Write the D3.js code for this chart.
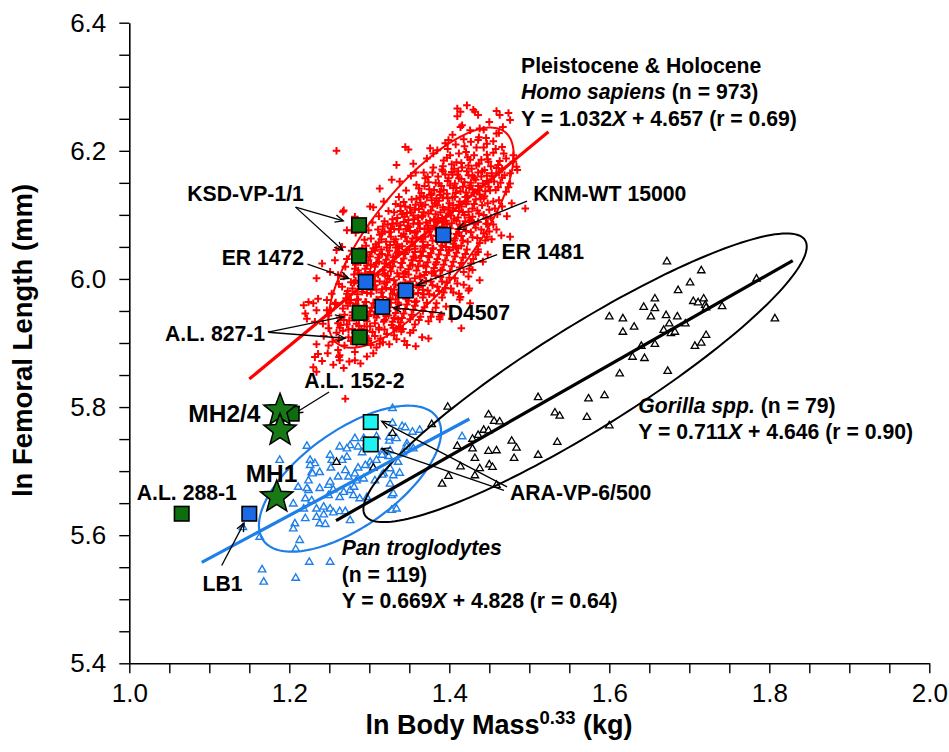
<!DOCTYPE html>
<html>
<head>
<meta charset="utf-8">
<script src="https://cdn.jsdelivr.net/npm/d3@7/dist/d3.min.js"></script>
<style>
  body { margin: 0; background: #fff; }
  svg { display: block; }
</style>
</head>
<body>
<svg id="chart" width="949" height="752"></svg>
<script>
// ---- axis ticks ----
const xTickValues = [1.0, 1.2, 1.4, 1.6, 1.8, 2.0];
const xTickLabels = ["1.0", "1.2", "1.4", "1.6", "1.8", "2.0"];
const yTickValues = [5.4, 5.6, 5.8, 6.0, 6.2, 6.4];
const yTickLabels = ["5.4", "5.6", "5.8", "6.0", "6.2", "6.4"];
const minorStep = 0.05;

// ---- Pleistocene & Holocene Homo sapiens: [ln body mass^0.33, ln femoral length] ----
const homoPoints = [
  [1.410,6.266],[1.422,6.271],[1.414,6.261],[1.432,6.261],[1.436,6.256],[1.459,6.262],[1.463,6.256],[1.474,6.259],
  [1.476,6.248],[1.450,6.245],[1.414,6.237],[1.426,6.232],[1.443,6.233],[1.467,6.237],[1.410,6.254],[1.399,6.217],
  [1.436,6.217],[1.447,6.211],[1.480,6.193],[1.484,6.175],[1.476,6.165],[1.495,6.110],[1.446,6.086],[1.447,6.066],
  [1.436,6.042],[1.425,5.985],[1.413,5.968],[1.426,5.962],[1.374,5.907],[1.345,6.206],[1.376,6.204],[1.380,6.196],
  [1.355,6.180],[1.259,6.200],[1.349,6.202],[1.430,6.264],[1.416,6.240],[1.438,6.235],[1.459,6.227],[1.480,6.183],
  [1.485,6.170],[1.476,6.066],[1.429,6.014],[1.438,5.998],[1.424,5.982],[1.414,5.972],[1.415,5.923],[1.388,5.941],
  [1.355,5.920],[1.334,6.178],[1.328,6.155],[1.313,6.141],[1.301,6.113],[1.268,6.107],[1.282,6.097],[1.278,6.076],
  [1.259,6.045],[1.266,6.050],[1.241,6.024],[1.270,6.019],[1.251,6.011],[1.261,6.006],[1.266,5.988],[1.224,5.964],
  [1.230,5.962],[1.236,5.969],[1.247,5.967],[1.218,5.959],[1.220,5.946],[1.234,5.951],[1.247,5.951],[1.257,5.961],
  [1.232,5.933],[1.242,5.930],[1.234,5.898],[1.249,5.896],[1.236,5.883],[1.232,5.878],[1.263,5.881],[1.261,5.889],
  [1.230,5.862],[1.234,5.855],[1.282,5.873],[1.299,5.907],[1.313,5.899],[1.334,5.922],[1.267,6.105],[1.272,6.076],
  [1.257,6.029],[1.234,6.001],[1.253,5.977],[1.222,5.938],[1.249,5.943],[1.263,5.873],[1.270,5.813],
  [1.372,6.188],[1.385,6.201],[1.392,6.176],[1.401,6.193],[1.408,6.210],[1.415,6.181],[1.421,6.198],[1.428,6.172],
  [1.434,6.205],[1.440,6.186],[1.447,6.194],[1.452,6.176],[1.458,6.203],[1.463,6.184],[1.468,6.196],[1.395,6.212],
  [1.418,6.218],[1.437,6.221],[1.455,6.215],[1.380,6.174],[1.411,6.168],[1.444,6.170],[1.466,6.172],[1.426,6.186],
  [1.403,6.179],
  [1.338,6.152],[1.346,6.138],[1.352,6.161],[1.359,6.147],[1.365,6.134],[1.368,6.166],[1.374,6.151],[1.381,6.139],
  [1.386,6.160],[1.390,6.145],[1.397,6.133],[1.399,6.157],[1.405,6.142],[1.410,6.163],[1.414,6.137],[1.419,6.151],
  [1.424,6.162],[1.429,6.140],[1.433,6.155],[1.438,6.132],[1.442,6.149],[1.447,6.161],[1.451,6.138],[1.456,6.152],
  [1.461,6.143],[1.466,6.158],[1.471,6.136],[1.476,6.149],[1.358,6.166],[1.392,6.168],[1.421,6.135],[1.436,6.166],
  [1.462,6.166],[1.377,6.131],[1.407,6.149],[1.449,6.144],
  [1.305,6.112],[1.312,6.098],[1.318,6.121],[1.324,6.106],[1.329,6.093],[1.333,6.117],[1.337,6.128],[1.341,6.101],
  [1.345,6.113],[1.349,6.092],[1.353,6.124],[1.357,6.108],[1.361,6.096],[1.364,6.119],[1.368,6.104],[1.372,6.127],
  [1.376,6.091],[1.379,6.113],[1.383,6.101],[1.387,6.122],[1.391,6.095],[1.394,6.108],[1.398,6.126],[1.402,6.099],
  [1.405,6.115],[1.409,6.091],[1.413,6.121],[1.417,6.104],[1.421,6.117],[1.425,6.096],[1.429,6.110],[1.433,6.124],
  [1.437,6.102],[1.441,6.115],[1.446,6.094],[1.450,6.108],[1.455,6.121],[1.460,6.101],[1.466,6.113],[1.472,6.098],
  [1.478,6.118],[1.339,6.106],[1.366,6.113],[1.385,6.090],[1.399,6.111],[1.423,6.129],[1.444,6.129],[1.356,6.093],
  [1.389,6.131],[1.412,6.106],
  [1.283,6.072],[1.289,6.084],[1.294,6.061],[1.299,6.076],[1.304,6.088],[1.308,6.054],[1.313,6.069],[1.317,6.082],
  [1.321,6.058],[1.325,6.073],[1.329,6.086],[1.333,6.062],[1.337,6.077],[1.341,6.051],[1.345,6.066],[1.349,6.081],
  [1.353,6.057],[1.357,6.072],[1.361,6.087],[1.365,6.063],[1.369,6.078],[1.373,6.053],[1.377,6.068],[1.381,6.083],
  [1.385,6.059],[1.389,6.074],[1.393,6.088],[1.397,6.064],[1.401,6.079],[1.405,6.055],[1.409,6.070],[1.413,6.085],
  [1.417,6.060],[1.421,6.075],[1.425,6.089],[1.429,6.065],[1.433,6.080],[1.438,6.056],[1.443,6.071],[1.448,6.086],
  [1.453,6.062],[1.459,6.077],[1.465,6.068],[1.296,6.052],[1.319,6.090],[1.343,6.089],[1.367,6.051],[1.391,6.052],
  [1.415,6.052],[1.436,6.089],[1.455,6.085],
  [1.272,6.031],[1.278,6.044],[1.283,6.022],[1.287,6.036],[1.291,6.048],[1.295,6.016],[1.299,6.029],[1.303,6.042],
  [1.307,6.019],[1.311,6.033],[1.315,6.046],[1.319,6.024],[1.323,6.037],[1.327,6.012],[1.331,6.027],[1.335,6.041],
  [1.339,6.018],[1.343,6.032],[1.347,6.045],[1.351,6.021],[1.355,6.035],[1.359,6.013],[1.363,6.028],[1.367,6.043],
  [1.371,6.019],[1.375,6.034],[1.379,6.047],[1.383,6.023],[1.387,6.038],[1.391,6.014],[1.395,6.029],[1.399,6.044],
  [1.403,6.020],[1.407,6.035],[1.411,6.048],[1.415,6.025],[1.420,6.039],[1.425,6.016],[1.430,6.031],[1.436,6.046],
  [1.442,6.027],[1.448,6.038],[1.286,6.013],[1.309,6.050],[1.333,6.049],[1.357,6.047],[1.381,6.012],[1.405,6.049],
  [1.418,6.011],[1.301,6.011],
  [1.262,5.992],[1.268,6.004],[1.273,5.981],[1.277,5.995],[1.281,6.007],[1.285,5.976],[1.289,5.989],[1.293,6.002],
  [1.297,5.978],[1.301,5.992],[1.305,6.005],[1.309,5.983],[1.313,5.996],[1.317,5.972],[1.321,5.986],[1.325,6.000],
  [1.329,5.977],[1.333,5.991],[1.337,6.004],[1.341,5.980],[1.345,5.994],[1.349,5.973],[1.353,5.987],[1.357,6.001],
  [1.361,5.978],[1.365,5.993],[1.369,6.006],[1.373,5.982],[1.377,5.996],[1.381,5.974],[1.385,5.988],[1.389,6.003],
  [1.393,5.979],[1.397,5.994],[1.402,5.985],[1.407,6.001],[1.412,5.977],[1.418,5.991],[1.424,6.004],[1.271,5.970],
  [1.295,6.008],[1.319,6.008],[1.343,6.008],[1.367,5.971],[1.391,5.971],
  [1.252,5.951],[1.258,5.963],[1.263,5.940],[1.267,5.954],[1.271,5.966],[1.275,5.935],[1.279,5.948],[1.283,5.961],
  [1.287,5.937],[1.291,5.951],[1.295,5.964],[1.299,5.942],[1.303,5.955],[1.307,5.931],[1.311,5.945],[1.315,5.959],
  [1.319,5.936],[1.323,5.950],[1.327,5.963],[1.331,5.939],[1.335,5.953],[1.339,5.932],[1.343,5.946],[1.347,5.960],
  [1.351,5.937],[1.355,5.952],[1.359,5.965],[1.364,5.941],[1.369,5.956],[1.374,5.934],[1.379,5.948],[1.384,5.962],
  [1.390,5.944],[1.396,5.957],[1.403,5.938],[1.261,5.931],[1.285,5.968],[1.309,5.968],[1.333,5.968],[1.357,5.929],
  [1.243,5.911],[1.249,5.923],[1.254,5.902],[1.259,5.916],[1.264,5.928],[1.269,5.896],[1.274,5.909],[1.279,5.922],
  [1.284,5.899],[1.289,5.913],[1.294,5.926],[1.299,5.904],[1.304,5.917],[1.309,5.893],[1.314,5.907],[1.319,5.921],
  [1.325,5.898],[1.331,5.912],[1.337,5.925],[1.344,5.903],[1.351,5.916],[1.358,5.895],[1.366,5.909],
  [1.241,5.872],[1.248,5.884],[1.255,5.866],[1.262,5.878],[1.268,5.861],[1.275,5.871],[1.282,5.886],[1.289,5.868],
  [1.297,5.879],[1.305,5.884],
  [1.393,6.185],[1.398,6.203],[1.406,6.172],[1.412,6.196],[1.419,6.207],[1.424,6.177],[1.431,6.193],[1.437,6.180],
  [1.443,6.205],[1.449,6.183],[1.455,6.197],[1.461,6.178],[1.466,6.206],[1.471,6.188],[1.427,6.214],[1.446,6.220],
  [1.404,6.225],[1.462,6.228],
  [1.362,6.141],[1.370,6.157],[1.375,6.140],[1.383,6.150],[1.388,6.136],[1.395,6.163],[1.401,6.146],[1.408,6.134],
  [1.412,6.157],[1.417,6.144],[1.422,6.168],[1.427,6.150],[1.431,6.134],[1.436,6.145],[1.440,6.160],[1.445,6.137],
  [1.453,6.165],[1.458,6.139],[1.464,6.150],[1.469,6.162],[1.474,6.143],[1.379,6.166],[1.403,6.167],[1.425,6.142],
  [1.447,6.153],
  [1.331,6.104],[1.335,6.095],[1.343,6.120],[1.347,6.103],[1.351,6.111],[1.355,6.099],[1.359,6.125],[1.362,6.109],
  [1.366,6.097],[1.370,6.116],[1.374,6.102],[1.378,6.123],[1.381,6.093],[1.385,6.115],[1.389,6.104],[1.392,6.127],
  [1.396,6.097],[1.400,6.118],[1.404,6.106],[1.407,6.128],[1.411,6.096],[1.415,6.113],[1.419,6.100],[1.423,6.121],
  [1.427,6.092],[1.431,6.117],[1.435,6.107],[1.439,6.125],[1.443,6.100],[1.448,6.118],[1.452,6.096],[1.457,6.110],
  [1.462,6.123],[1.368,6.129],[1.396,6.091],[1.420,6.090],
  [1.311,6.077],[1.315,6.062],[1.319,6.074],[1.323,6.085],[1.327,6.066],[1.331,6.078],[1.335,6.054],[1.339,6.084],
  [1.343,6.070],[1.347,6.059],[1.351,6.075],[1.355,6.086],[1.359,6.065],[1.363,6.079],[1.367,6.058],[1.371,6.088],
  [1.375,6.074],[1.379,6.060],[1.383,6.077],[1.387,6.065],[1.391,6.082],[1.395,6.057],[1.399,6.071],[1.403,6.087],
  [1.407,6.063],[1.411,6.078],[1.415,6.067],[1.419,6.084],[1.423,6.058],[1.427,6.073],[1.431,6.086],[1.435,6.064],
  [1.440,6.077],[1.445,6.060],[1.450,6.074],[1.357,6.051],[1.384,6.089],[1.408,6.051],[1.326,6.053],
  [1.289,6.026],[1.293,6.040],[1.297,6.021],[1.301,6.035],[1.305,6.048],[1.309,6.025],[1.313,6.038],[1.317,6.014],
  [1.321,6.030],[1.325,6.044],[1.329,6.020],[1.333,6.035],[1.337,6.048],[1.341,6.025],[1.345,6.039],[1.349,6.015],
  [1.353,6.029],[1.357,6.042],[1.361,6.020],[1.365,6.036],[1.369,6.049],[1.373,6.026],[1.377,6.040],[1.381,6.017],
  [1.385,6.031],[1.389,6.045],[1.393,6.022],[1.397,6.037],[1.401,6.012],[1.405,6.027],[1.409,6.041],[1.413,6.018],
  [1.417,6.033],[1.422,6.046],[1.427,6.024],[1.433,6.038],[1.345,6.011],[1.371,6.011],[1.396,6.050],
  [1.279,5.985],[1.283,5.997],[1.287,6.009],[1.291,5.980],[1.295,5.995],[1.299,6.004],[1.303,5.983],[1.307,5.997],
  [1.311,6.007],[1.315,5.979],[1.319,5.993],[1.323,6.005],[1.327,5.984],[1.331,5.998],[1.335,5.975],[1.339,5.990],
  [1.343,6.003],[1.347,5.982],[1.351,5.996],[1.355,5.976],[1.359,5.990],[1.363,6.004],[1.367,5.983],[1.371,5.997],
  [1.375,5.976],[1.379,5.990],[1.383,6.005],[1.387,5.981],[1.391,5.996],[1.395,5.986],[1.400,6.002],[1.405,5.979],
  [1.410,5.993],
  [1.269,5.944],[1.273,5.958],[1.277,5.967],[1.281,5.939],[1.285,5.953],[1.289,5.944],[1.293,5.958],[1.297,5.934],
  [1.301,5.949],[1.305,5.962],[1.309,5.940],[1.313,5.953],[1.317,5.966],[1.321,5.942],[1.325,5.956],[1.329,5.933],
  [1.333,5.947],[1.337,5.960],[1.341,5.939],[1.345,5.953],[1.349,5.966],[1.353,5.944],[1.357,5.958],[1.362,5.936],
  [1.367,5.950],[1.372,5.963],[1.377,5.941],[1.383,5.955],[1.388,5.937],
  [1.262,5.905],[1.267,5.919],[1.272,5.929],[1.277,5.903],[1.282,5.916],[1.287,5.927],[1.292,5.906],[1.297,5.919],
  [1.302,5.897],[1.307,5.911],[1.312,5.924],[1.317,5.901],[1.322,5.914],[1.328,5.928],[1.334,5.906],[1.340,5.918],
  [1.347,5.897],
  [1.391,6.171],[1.397,6.189],[1.404,6.163],[1.409,6.182],[1.416,6.174],[1.423,6.190],[1.429,6.161],[1.434,6.177],
  [1.441,6.168],[1.448,6.187],[1.454,6.160],[1.459,6.173],
  [1.363,6.127],[1.369,6.145],[1.373,6.159],[1.378,6.133],[1.384,6.126],[1.387,6.149],[1.393,6.139],[1.398,6.153],
  [1.404,6.127],[1.409,6.142],[1.415,6.156],[1.420,6.128],[1.426,6.146],[1.431,6.158],[1.437,6.139],[1.443,6.126],
  [1.449,6.151],
  [1.334,6.087],[1.339,6.114],[1.344,6.097],[1.348,6.083],[1.352,6.104],[1.358,6.116],[1.363,6.086],[1.367,6.099],
  [1.373,6.083],[1.377,6.107],[1.382,6.118],[1.386,6.094],[1.392,6.112],[1.397,6.085],[1.401,6.104],[1.406,6.094],
  [1.412,6.116],[1.418,6.083],[1.424,6.105],[1.429,6.097],
  [1.302,6.063],[1.307,6.044],[1.312,6.057],[1.316,6.071],[1.322,6.049],[1.327,6.079],[1.331,6.058],[1.336,6.043],
  [1.340,6.067],[1.346,6.078],[1.350,6.046],[1.354,6.063],[1.360,6.074],[1.364,6.043],[1.370,6.066],[1.374,6.079],
  [1.380,6.048],[1.384,6.067],[1.390,6.059],[1.395,6.076],[1.400,6.045],[1.406,6.060],[1.412,6.073],
  [1.282,6.016],[1.288,6.031],[1.292,6.004],[1.297,6.038],[1.302,6.022],[1.306,6.008],[1.312,6.027],[1.316,6.039],
  [1.320,6.005],[1.326,6.018],[1.330,6.034],[1.335,6.009],[1.340,6.025],[1.344,6.040],[1.349,6.007],[1.354,6.022],
  [1.358,6.033],[1.364,6.004],[1.368,6.021],[1.374,6.036],[1.378,6.009],[1.384,6.026],[1.389,6.013],
  [1.272,5.977],[1.276,5.963],[1.281,5.994],[1.286,5.968],[1.292,5.985],[1.296,5.964],[1.302,5.977],[1.307,5.990],
  [1.311,5.967],[1.316,5.984],[1.322,5.995],[1.326,5.970],[1.331,5.983],[1.336,5.963],[1.342,5.990],[1.346,5.969],
  [1.352,5.982],[1.357,5.964],[1.362,5.987],[1.368,5.976],
  [1.263,5.924],[1.268,5.936],[1.274,5.921],[1.279,5.943],[1.284,5.930],[1.290,5.922],[1.295,5.939],[1.301,5.926],
  [1.306,5.944],[1.312,5.921],[1.318,5.933],[1.324,5.943],[1.330,5.924],[1.336,5.937],[1.342,5.922]
];

// ---- Pan troglodytes ----
const panPoints = [
  [1.329,5.798],[1.329,5.775],[1.341,5.770],[1.345,5.768],[1.354,5.761],[1.363,5.764],[1.282,5.751],[1.293,5.751],
  [1.276,5.740],[1.263,5.738],[1.272,5.735],[1.286,5.738],[1.297,5.745],[1.309,5.754],[1.325,5.747],[1.334,5.751],
  [1.325,5.753],[1.347,5.743],[1.347,5.738],[1.326,5.732],[1.316,5.730],[1.324,5.723],[1.316,5.725],[1.309,5.717],
  [1.301,5.714],[1.295,5.709],[1.303,5.709],[1.272,5.722],[1.266,5.717],[1.253,5.717],[1.251,5.725],[1.232,5.712],
  [1.226,5.717],[1.222,5.739],[1.188,5.717],[1.226,5.709],[1.238,5.698],[1.228,5.698],[1.229,5.696],[1.252,5.705],
  [1.261,5.691],[1.274,5.691],[1.282,5.696],[1.284,5.685],[1.293,5.688],[1.286,5.705],[1.270,5.701],[1.318,5.696],
  [1.330,5.693],[1.338,5.697],[1.307,5.685],[1.316,5.694],[1.326,5.704],[1.326,5.680],[1.224,5.685],[1.211,5.675],
  [1.224,5.670],[1.238,5.673],[1.249,5.678],[1.251,5.683],[1.255,5.671],[1.249,5.662],[1.263,5.659],[1.276,5.670],
  [1.268,5.667],[1.280,5.662],[1.288,5.657],[1.297,5.659],[1.281,5.675],[1.328,5.662],[1.330,5.665],[1.220,5.657],
  [1.228,5.654],[1.205,5.649],[1.218,5.641],[1.234,5.641],[1.243,5.644],[1.251,5.641],[1.263,5.637],[1.270,5.637],
  [1.255,5.635],[1.243,5.632],[1.276,5.623],[1.234,5.628],[1.238,5.618],[1.245,5.617],[1.207,5.618],[1.205,5.610],
  [1.220,5.626],[1.213,5.592],[1.208,5.578],[1.328,5.639],[1.334,5.641],[1.225,5.558],[1.251,5.558],[1.166,5.546],
  [1.168,5.527],[1.208,5.533],[1.163,5.597],[1.142,5.612],[1.222,5.673],[1.416,5.754],[1.291,5.729],[1.301,5.739],
  [1.336,5.714],[1.342,5.729],[1.355,5.735]
];

// ---- Gorilla spp. ----
const gorillaPoints = [
  [1.672,6.027],[1.715,6.013],[1.701,5.994],[1.686,5.982],[1.657,5.969],[1.643,5.956],[1.657,5.954],[1.705,5.965],
  [1.711,5.963],[1.718,5.969],[1.720,5.959],[1.721,5.955],[1.741,5.957],[1.807,5.938],[1.600,5.941],[1.617,5.938],
  [1.652,5.941],[1.671,5.943],[1.685,5.941],[1.631,5.925],[1.617,5.917],[1.668,5.920],[1.675,5.930],[1.677,5.915],
  [1.682,5.917],[1.695,5.930],[1.657,5.898],[1.707,5.895],[1.715,5.900],[1.721,5.912],[1.629,5.878],[1.644,5.876],
  [1.640,5.895],[1.613,5.852],[1.673,5.856],[1.511,5.815],[1.574,5.813],[1.594,5.818],[1.532,5.791],[1.538,5.786],
  [1.572,5.784],[1.600,5.771],[1.398,5.800],[1.449,5.788],[1.456,5.778],[1.463,5.777],[1.378,5.773],[1.443,5.764],
  [1.449,5.763],[1.436,5.756],[1.429,5.750],[1.410,5.739],[1.429,5.735],[1.478,5.747],[1.484,5.736],[1.535,5.745],
  [1.449,5.731],[1.459,5.732],[1.432,5.720],[1.481,5.720],[1.511,5.725],[1.450,5.710],[1.454,5.706],[1.414,5.707],
  [1.438,5.704],[1.399,5.692],[1.432,5.693],[1.391,5.680],[1.459,5.678],[1.329,5.759],[1.259,5.714],[1.784,6.000],
  [1.305,5.705]
];

// ---- least-squares lines: slope, intercept and plotted x extent ----
const fitSlopes     = { homo: 1.032, pan: 0.669, gorilla: 0.711 };
const fitIntercepts = { homo: 4.657, pan: 4.828, gorilla: 4.728 };
const fitExtents    = { homo: [1.150, 1.524], pan: [1.0905, 1.4251], gorilla: [1.2584, 1.8293] };

// ---- 95% ellipses: centre, end of major semi-axis, end of minor semi-axis ----
const ellipseCentres = { homo: [1.3647, 6.0644], pan: [1.2759, 5.6882], gorilla: [1.5697, 5.8457] };
const ellipseMajor   = { homo: [1.4697, 6.2293], pan: [1.3843, 5.7844], gorilla: [1.8447, 6.0605] };
const ellipseMinor   = { homo: [1.4135, 6.0158], pan: [1.3107, 5.6271], gorilla: [1.6037, 5.7777] };

// ---- fossil specimens ----
const specimens = [
  { name: "KSD-VP-1/1",     kind: "green", x: 1.2872, y: 6.0839 },
  { name: "KSD-VP-1/1",     kind: "green", x: 1.2872, y: 6.0360 },
  { name: "ER 1472",        kind: "blue",  x: 1.2955, y: 5.9953 },
  { name: "ER 1481",        kind: "blue",  x: 1.3455, y: 5.9819 },
  { name: "D4507",          kind: "blue",  x: 1.3163, y: 5.9563 },
  { name: "KNM-WT 15000",   kind: "blue",  x: 1.3925, y: 6.0688 },
  { name: "A.L. 827-1",     kind: "green", x: 1.2880, y: 5.9469 },
  { name: "A.L. 827-1",     kind: "green", x: 1.2880, y: 5.9089 },
  { name: "A.L. 152-2",     kind: "green", x: 1.2030, y: 5.7897 },
  { name: "A.L. 288-1",     kind: "green", x: 1.0655, y: 5.6335 },
  { name: "LB1",            kind: "blue",  x: 1.1500, y: 5.6335 },
  { name: "ARA-VP-6/500",   kind: "cyan",  x: 1.3018, y: 5.7766 },
  { name: "ARA-VP-6/500",   kind: "cyan",  x: 1.3018, y: 5.7417 },
  { name: "MH2/4",          kind: "star",  x: 1.1884, y: 5.7949 },
  { name: "MH2/4",          kind: "star",  x: 1.1884, y: 5.7636 },
  { name: "MH1",            kind: "star",  x: 1.1843, y: 5.6594 }
];

// specimen name labels: [text, x, y] at the text's left baseline
const specimenLabels = [
  ["KSD-VP-1/1",   1.0725, 6.1214],
  ["ER 1472",      1.1155, 6.0214],
  ["A.L. 827-1",   1.0447, 5.9032],
  ["KNM-WT 15000", 1.5050, 6.1222],
  ["ER 1481",      1.4653, 6.0308],
  ["D4507",        1.3980, 5.9355],
  ["A.L. 152-2",   1.2188, 5.8293],
  ["A.L. 288-1",   1.0093, 5.6543],
  ["LB1",          1.0915, 5.5136],
  ["ARA-VP-6/500", 1.4759, 5.6543]
];
const largeLabels = [
  ["MH2/4", 1.0738, 5.7766],
  ["MH1",   1.1455, 5.6829]
];

// leader arrows: [fromX, fromY, toX, toY]
const leaders = [
  [1.2078, 6.1121, 1.2675, 6.0907],
  [1.2078, 6.1121, 1.2668, 6.0449],
  [1.2228, 6.0230, 1.2744, 6.0007],
  [1.1734, 5.9168, 1.2678, 5.9410],
  [1.1734, 5.9168, 1.2697, 5.9074],
  [1.3947, 5.9464, 1.3300, 5.9553],
  [1.4597, 6.0378, 1.3593, 5.9902],
  [1.4972, 6.1214, 1.4100, 6.0777],
  [1.2497, 5.8235, 1.2065, 5.7900],
  [1.1155, 5.5527, 1.1434, 5.6188],
  [1.4722, 5.6753, 1.3155, 5.7777],
  [1.4684, 5.6699, 1.3155, 5.7350]
];

// group legends: anchor [x, y of first baseline]
const homoLegendAt    = [1.4897, 6.3222];
const gorillaLegendAt = [1.6363, 5.7907];
const panLegendAt     = [1.2655, 5.5683];

// ---------------------------------------------------------------
const colours = {
  homo: "#ff0000", pan: "#1e7fe8", gorilla: "#000000",
  green: "#0c6e0c", blue: "#1a6ae6", cyan: "#1ff2f2", star: "#177a17"
};
const FONT = "'Liberation Sans', Arial, Helvetica, sans-serif";
const LABEL_SIZE = 21.2;
const lineGap = 26.5;

const svg = d3.select("#chart");
const x = d3.scaleLinear().domain([1.0, 2.0]).range([129.3, 929.3]);
const y = d3.scaleLinear().domain([5.4, 6.4]).range([663.3, 22.7]);

// axes with unlabelled minor ticks every 0.05
const xAll = d3.range(0, 21).map(i => +(1.0 + i * minorStep).toFixed(2));
const yAll = d3.range(0, 21).map(i => +(5.4 + i * minorStep).toFixed(2));
const labelFor = (vals, labels) => d => {
  const i = vals.findIndex(v => Math.abs(v - d) < 1e-6);
  return i >= 0 ? labels[i] : "";
};

const gx = svg.append("g").attr("transform", `translate(0,${y(5.4)})`)
  .call(d3.axisBottom(x).tickValues(xAll).tickSize(10).tickSizeOuter(0).tickPadding(10.5)
    .tickFormat(labelFor(xTickValues, xTickLabels)));
const gy = svg.append("g").attr("transform", `translate(${x(1.0)},0)`)
  .call(d3.axisLeft(y).tickValues(yAll).tickSize(10).tickSizeOuter(0).tickPadding(13)
    .tickFormat(labelFor(yTickValues, yTickLabels)));
[gx, gy].forEach(g => {
  g.attr("font-family", FONT).attr("font-size", 26);
  g.selectAll("path.domain").attr("stroke", "#000").attr("stroke-width", 1.6);
  g.selectAll(".tick line").attr("stroke", "#000").attr("stroke-width", 1.4);
  g.selectAll(".tick text").attr("fill", "#000");
});

// axis titles
const xt = svg.append("text").attr("x", 499).attr("y", 734)
  .attr("text-anchor", "middle").attr("font-family", FONT).attr("font-weight", "bold")
  .attr("font-size", 27).attr("fill", "#000");
xt.append("tspan").text("ln Body Mass");
xt.append("tspan").attr("font-size", 18.5).attr("dy", -10).text("0.33");
xt.append("tspan").attr("dy", 10).text(" (kg)");

svg.append("text")
  .attr("transform", "translate(32,340.5) rotate(-90)")
  .attr("text-anchor", "middle").attr("font-family", FONT).attr("font-weight", "bold")
  .attr("font-size", 27.5).attr("fill", "#000").text("ln Femoral Length (mm)");

// ---- scatter clouds ----
const plus = "M-3.8,0H3.8M0,-3.8V3.8";
svg.append("g").selectAll("path").data(homoPoints).join("path")
  .attr("d", plus).attr("transform", d => `translate(${x(d[0])},${y(d[1])})`)
  .attr("stroke", colours.homo).attr("stroke-width", 2).attr("fill", "none");

const tri = d3.symbol().type(d3.symbolTriangle).size(24)();
svg.append("g").selectAll("path").data(panPoints).join("path")
  .attr("d", tri).attr("transform", d => `translate(${x(d[0])},${y(d[1])})`)
  .attr("stroke", colours.pan).attr("stroke-width", 1.4).attr("fill", "#fff");
svg.append("g").selectAll("path").data(gorillaPoints).join("path")
  .attr("d", tri).attr("transform", d => `translate(${x(d[0])},${y(d[1])})`)
  .attr("stroke", colours.gorilla).attr("stroke-width", 1.3).attr("fill", "#fff");

// ---- ellipses ----
["homo", "pan", "gorilla"].forEach(k => {
  const c = ellipseCentres[k], M = ellipseMajor[k], m = ellipseMinor[k];
  const pts = d3.range(0, 181).map(i => {
    const t = i / 180 * 2 * Math.PI;
    return [c[0] + (M[0] - c[0]) * Math.cos(t) + (m[0] - c[0]) * Math.sin(t),
            c[1] + (M[1] - c[1]) * Math.cos(t) + (m[1] - c[1]) * Math.sin(t)];
  });
  svg.append("path").datum(pts)
    .attr("d", d3.line().x(p => x(p[0])).y(p => y(p[1])).curve(d3.curveLinearClosed))
    .attr("fill", "none").attr("stroke", colours[k]).attr("stroke-width", k === "pan" ? 2.2 : 2);
});

// ---- fit lines ----
["homo", "pan", "gorilla"].forEach(k => {
  const [a, b] = fitExtents[k];
  const f = v => fitSlopes[k] * v + fitIntercepts[k];
  svg.append("line")
    .attr("x1", x(a)).attr("y1", y(f(a))).attr("x2", x(b)).attr("y2", y(f(b)))
    .attr("stroke", colours[k]).attr("stroke-width", 3.2).attr("stroke-linecap", "butt");
});

// ---- leader arrows ----
const ag = svg.append("g").attr("stroke", "#000").attr("stroke-width", 1.3).attr("fill", "none");
leaders.forEach(([x1, y1, x2, y2]) => {
  const X1 = x(x1), Y1 = y(y1), X2 = x(x2), Y2 = y(y2);
  ag.append("line").attr("x1", X1).attr("y1", Y1).attr("x2", X2).attr("y2", Y2);
  const ang = Math.atan2(Y2 - Y1, X2 - X1), L = 9, w = 0.42;
  const p1 = [X2 - L * Math.cos(ang - w), Y2 - L * Math.sin(ang - w)];
  const p2 = [X2 - L * Math.cos(ang + w), Y2 - L * Math.sin(ang + w)];
  ag.append("path").attr("d", `M${p1[0]},${p1[1]}L${X2},${Y2}L${p2[0]},${p2[1]}`);
});

// ---- specimen markers ----
const sq = 14.5;
svg.append("g").selectAll("rect").data(specimens.filter(s => s.kind !== "star")).join("rect")
  .attr("x", d => x(d.x) - sq / 2).attr("y", d => y(d.y) - sq / 2)
  .attr("width", sq).attr("height", sq)
  .attr("fill", d => colours[d.kind]).attr("stroke", "#000").attr("stroke-width", 1.6);

function starPath(R, r) {
  let s = "";
  for (let i = 0; i < 10; i++) {
    const rad = i % 2 ? r : R, a = -Math.PI / 2 + i * Math.PI / 5;
    s += (i ? "L" : "M") + (rad * Math.cos(a)).toFixed(2) + "," + (rad * Math.sin(a)).toFixed(2);
  }
  return s + "Z";
}
svg.append("g").selectAll("path").data(specimens.filter(s => s.kind === "star")).join("path")
  .attr("d", starPath(17, 7.2)).attr("transform", d => `translate(${x(d.x)},${y(d.y)})`)
  .attr("fill", colours.star).attr("stroke", "#000").attr("stroke-width", 1.5);

// ---- text ----
const txt = (px, py, size) => svg.append("text").attr("x", px).attr("y", py)
  .attr("font-family", FONT).attr("font-weight", "bold").attr("font-size", size).attr("fill", "#000");

specimenLabels.forEach(([t, lx, ly]) => txt(x(lx), y(ly), LABEL_SIZE).text(t));
largeLabels.forEach(([t, lx, ly]) => txt(x(lx), y(ly), 24.5).text(t));

function eqLine(t, slope, intercept, r) {
  t.append("tspan").text(`Y = ${slope}`);
  t.append("tspan").attr("font-style", "italic").text("X");
  t.append("tspan").text(` + ${intercept} (r = ${r})`);
}

// Homo sapiens legend
{
  const [lx, ly] = homoLegendAt, X0 = x(lx), Y0 = y(ly);
  txt(X0, Y0, LABEL_SIZE).text("Pleistocene & Holocene");
  const t2 = txt(X0, Y0 + lineGap, LABEL_SIZE);
  t2.append("tspan").attr("font-style", "italic").text("Homo sapiens");
  t2.append("tspan").text(" (n = 973)");
  eqLine(txt(X0, Y0 + 2 * lineGap, LABEL_SIZE), "1.032", "4.657", "0.69");
}
// Gorilla legend
{
  const [lx, ly] = gorillaLegendAt, X0 = x(lx), Y0 = y(ly);
  const t1 = txt(X0, Y0, LABEL_SIZE);
  t1.append("tspan").attr("font-style", "italic").text("Gorilla spp.");
  t1.append("tspan").text(" (n = 79)");
  eqLine(txt(X0, Y0 + 25.6, LABEL_SIZE), "0.711", "4.646", "0.90");
}
// Pan legend
{
  const [lx, ly] = panLegendAt, X0 = x(lx), Y0 = y(ly);
  txt(X0, Y0, LABEL_SIZE).attr("font-style", "italic").text("Pan troglodytes");
  txt(X0, Y0 + lineGap, LABEL_SIZE).text("(n = 119)");
  eqLine(txt(X0, Y0 + 2 * lineGap, LABEL_SIZE), "0.669", "4.828", "0.64");
}
</script>
</body>
</html>
